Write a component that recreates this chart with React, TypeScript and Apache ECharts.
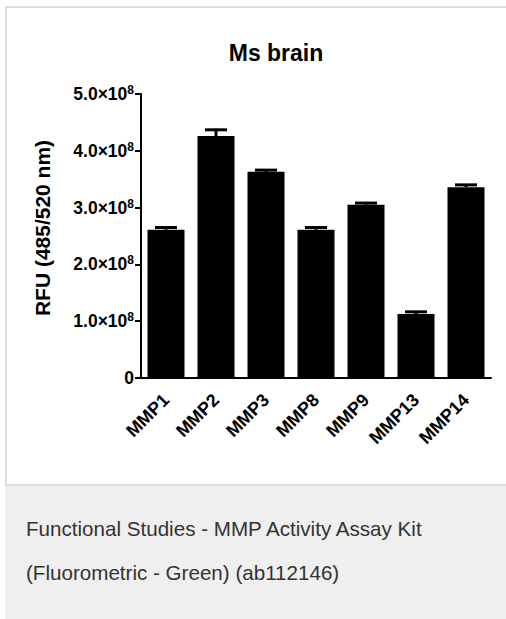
import React, { useEffect, useRef } from "react";
import * as echarts from "echarts";

const categories = ["MMP1", "MMP2", "MMP3", "MMP8", "MMP9", "MMP13", "MMP14"];
const values = [2.61e8, 4.26e8, 3.63e8, 2.61e8, 3.05e8, 1.125e8, 3.36e8];
const errors = [0.04e8, 0.11e8, 0.03e8, 0.04e8, 0.03e8, 0.04e8, 0.04e8];
const yTicks = [0, 1e8, 2e8, 3e8, 4e8, 5e8];
const titleText = "Ms brain";
const yName = "RFU (485/520 nm)";
const captionLines = [
  "Functional Studies - MMP Activity Assay Kit",
  "(Fluorometric - Green) (ab112146)",
];

const FONT = 'Arial, "Liberation Sans", Helvetica, sans-serif';

export default function App() {
  const ref = useRef<HTMLDivElement>(null);

  useEffect(() => {
    if (!ref.current) return;
    const chart = echarts.init(ref.current, undefined, { renderer: "svg" });
    const errData = categories.map((c, i) => [i, values[i], values[i] + errors[i]]);
    chart.setOption({
      animation: false,
      backgroundColor: "transparent",
      textStyle: { fontFamily: FONT },
      graphic: [
        {
          type: "text",
          x: 276,
          y: 53,
          style: {
            text: titleText,
            align: "center",
            verticalAlign: "middle",
            fontFamily: FONT,
            fontWeight: "bold",
            fontSize: 23,
            fill: "#000",
          },
        },
      ],
      grid: { left: 141, top: 94, width: 350, height: 284, containLabel: false },
      xAxis: {
        type: "category",
        data: categories,
        axisLine: { lineStyle: { color: "#000", width: 2 } },
        axisTick: { alignWithLabel: true, length: 6, lineStyle: { color: "#000", width: 2 } },
        axisLabel: {
          rotate: 45,
          margin: 19,
          color: "#000",
          fontWeight: "bold",
          fontSize: 18,
          fontFamily: FONT,
        },
      },
      yAxis: {
        type: "value",
        min: 0,
        max: 5e8,
        interval: 1e8,
        name: yName,
        nameLocation: "middle",
        nameRotate: 90,
        nameGap: 88,
        nameTextStyle: {
          fontWeight: "bold",
          fontSize: 21,
          color: "#000",
          fontFamily: FONT,
          padding: [0, 0, 0, 16],
        },
        splitLine: { show: false },
        axisLine: { show: true, lineStyle: { color: "#000", width: 2 } },
        axisTick: { show: true, length: 6, lineStyle: { color: "#000", width: 2 } },
        axisLabel: {
          margin: 7,
          color: "#000",
          formatter: (v: number) => {
            if (!yTicks.includes(v)) return "";
            if (v === 0) return "{a|0}";
            return `{a|${(v / 1e8).toFixed(1)}×10}{b|8}`;
          },
          rich: {
            a: { fontSize: 17.5, fontWeight: "bold", color: "#000", fontFamily: FONT, lineHeight: 20 },
            b: { fontSize: 12, fontWeight: "bold", color: "#000", fontFamily: FONT, lineHeight: 12, verticalAlign: "top" },
          },
        },
      },
      series: [
        {
          type: "bar",
          data: values,
          barWidth: 37,
          itemStyle: { color: "#000" },
        },
        {
          type: "custom",
          data: errData,
          z: 3,
          renderItem: (params: any, api: any) => {
            const x = api.value(0);
            const lo = api.coord([x, api.value(1)]);
            const hi = api.coord([x, api.value(2)]);
            const half = 11;
            return {
              type: "group",
              children: [
                {
                  type: "line",
                  shape: { x1: lo[0], y1: lo[1], x2: hi[0], y2: hi[1] },
                  style: { stroke: "#000", lineWidth: 3 },
                },
                {
                  type: "line",
                  shape: { x1: hi[0] - half, y1: hi[1], x2: hi[0] + half, y2: hi[1] },
                  style: { stroke: "#000", lineWidth: 3 },
                },
              ],
            };
          },
        },
      ],
    });
    return () => chart.dispose();
  }, []);

  return (
    <div
      style={{
        position: "absolute",
        left: 0,
        top: 0,
        width: 506,
        height: 619,
        overflow: "hidden",
        background: "#fff",
        fontFamily: FONT,
      }}
    >
      <div
        style={{
          position: "absolute",
          left: 5,
          top: 6,
          width: 530,
          height: 476,
          border: "2px solid #dedede",
        }}
      />
      <div
        style={{
          position: "absolute",
          left: 5,
          top: 486,
          width: 501,
          height: 133,
          background: "#eeefee",
          boxSizing: "border-box",
          paddingTop: 21,
          paddingLeft: 21,
          color: "#333",
          fontSize: 20.6,
          lineHeight: "44px",
        }}
      >
        {captionLines.map((l, i) => (
          <div key={i}>{l}</div>
        ))}
      </div>
      <div ref={ref} style={{ position: "absolute", left: 0, top: 0, width: 506, height: 486 }} />
    </div>
  );
}
